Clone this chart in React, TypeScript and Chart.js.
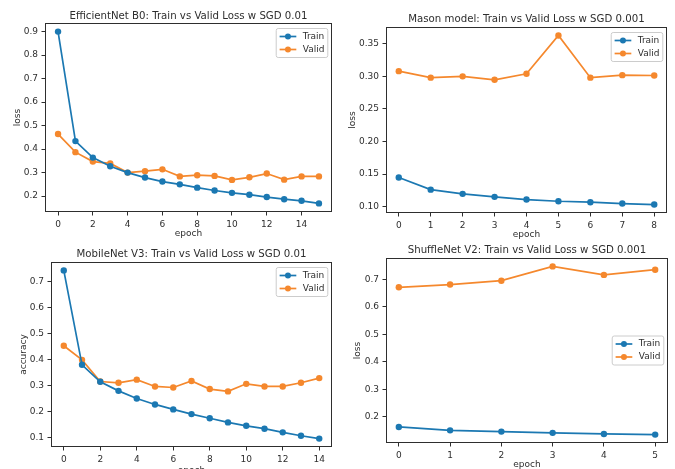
import React, { useEffect, useRef } from 'react';
import { Chart, registerables } from 'chart.js';

Chart.register(...registerables);

// ---------------- data ----------------
const seriesNames = ['Train', 'Valid'];

const effEpochs = [0, 1, 2, 3, 4, 5, 6, 7, 8, 9, 10, 11, 12, 13, 14, 15];
const effTrain = [0.9, 0.434, 0.364, 0.327, 0.3, 0.279, 0.262, 0.25, 0.236, 0.224, 0.214, 0.206, 0.196, 0.187, 0.18, 0.169];
const effValid = [0.464, 0.387, 0.347, 0.339, 0.3, 0.306, 0.314, 0.284, 0.289, 0.286, 0.269, 0.28, 0.296, 0.27, 0.284, 0.284];
const effXTicks = [0, 2, 4, 6, 8, 10, 12, 14];
const effYTicks = [0.2, 0.3, 0.4, 0.5, 0.6, 0.7, 0.8, 0.9];

const masonEpochs = [0, 1, 2, 3, 4, 5, 6, 7, 8];
const masonTrain = [0.1446, 0.126, 0.1195, 0.1149, 0.1108, 0.1082, 0.1067, 0.1046, 0.1031];
const masonValid = [0.308, 0.298, 0.3, 0.2947, 0.304, 0.3628, 0.298, 0.3018, 0.3013];
const masonXTicks = [0, 1, 2, 3, 4, 5, 6, 7, 8];
const masonYTicks = [0.1, 0.15, 0.2, 0.25, 0.3, 0.35];

const mobEpochs = [0, 1, 2, 3, 4, 5, 6, 7, 8, 9, 10, 11, 12, 13, 14];
const mobTrain = [0.742, 0.38, 0.315, 0.28, 0.251, 0.228, 0.209, 0.191, 0.175, 0.159, 0.146, 0.135, 0.121, 0.108, 0.097];
const mobValid = [0.453, 0.399, 0.316, 0.311, 0.323, 0.297, 0.293, 0.318, 0.287, 0.278, 0.307, 0.297, 0.297, 0.311, 0.329];
const mobXTicks = [0, 2, 4, 6, 8, 10, 12, 14];
const mobYTicks = [0.1, 0.2, 0.3, 0.4, 0.5, 0.6, 0.7];

const shufEpochs = [0, 1, 2, 3, 4, 5];
const shufTrain = [0.1625, 0.15, 0.1455, 0.141, 0.137, 0.1346];
const shufValid = [0.671, 0.681, 0.695, 0.747, 0.716, 0.735];
const shufXTicks = [0, 1, 2, 3, 4, 5];
const shufYTicks = [0.2, 0.3, 0.4, 0.5, 0.6, 0.7];

// ---------------- style ----------------
const FONT = '"DejaVu Sans", sans-serif';
const TEXT = '#2e2e2e';
const BLUE = '#1b78b2';
const ORANGE = '#f5882d';
const SMALL = 9;
const BIG = 10.2;

type Panel = {
  title: string;
  yLabel: string;
  epochs: number[];
  train: number[];
  valid: number[];
  xTicks: number[];
  yTicks: number[];
  dec: number;
  box: { left: number; top: number; width: number; height: number };
  area: { l: number; t: number; r: number; b: number };
  titleY: number;
  yTitleX: number;
  xTitleY: number;
  legend: 'upper right' | 'center right';
};

const panels: Panel[] = [
  {
    title: 'EfficientNet B0: Train vs Valid Loss w SGD 0.01',
    yLabel: 'loss',
    epochs: effEpochs, train: effTrain, valid: effValid,
    xTicks: effXTicks, yTicks: effYTicks, dec: 1,
    box: { left: 0, top: 0, width: 340, height: 240 },
    area: { l: 45, t: 23, r: 332, b: 212 },
    titleY: 16, yTitleX: 18, xTitleY: 234, legend: 'upper right',
  },
  {
    title: 'Mason model: Train vs Valid Loss w SGD 0.001',
    yLabel: 'loss',
    epochs: masonEpochs, train: masonTrain, valid: masonValid,
    xTicks: masonXTicks, yTicks: masonYTicks, dec: 2,
    box: { left: 337, top: 0, width: 338, height: 240 },
    area: { l: 49, t: 27, r: 330, b: 213 },
    titleY: 19, yTitleX: 16, xTitleY: 235, legend: 'upper right',
  },
  {
    title: 'MobileNet V3: Train vs Valid Loss w SGD 0.01',
    yLabel: 'accuracy',
    epochs: mobEpochs, train: mobTrain, valid: mobValid,
    xTicks: mobXTicks, yTicks: mobYTicks, dec: 1,
    box: { left: 0, top: 240, width: 340, height: 240 },
    area: { l: 51, t: 22, r: 332, b: 207 },
    titleY: 14, yTitleX: 24, xTitleY: 231, legend: 'upper right',
  },
  {
    title: 'ShuffleNet V2: Train vs Valid Loss w SGD 0.001',
    yLabel: 'loss',
    epochs: shufEpochs, train: shufTrain, valid: shufValid,
    xTicks: shufXTicks, yTicks: shufYTicks, dec: 1,
    box: { left: 337, top: 240, width: 338, height: 240 },
    area: { l: 49, t: 18, r: 331, b: 203 },
    titleY: 10, yTitleX: 21, xTitleY: 225, legend: 'center right',
  },
];

function margins(vals: number[]) {
  const mn = Math.min(...vals);
  const mx = Math.max(...vals);
  const d = (mx - mn) * 0.05;
  return { min: mn - d, max: mx + d };
}

function decoPlugin(p: Panel) {
  return {
    id: 'deco',
    afterDraw(chart: any) {
      const ctx = chart.ctx as CanvasRenderingContext2D;
      const a = chart.chartArea;
      ctx.save();
      // frame (spines)
      ctx.strokeStyle = TEXT;
      ctx.lineWidth = 1;
      ctx.strokeRect(a.left + 0.5, a.top + 0.5, a.right - a.left - 1, a.bottom - a.top - 1);
      // title
      ctx.fillStyle = TEXT;
      ctx.font = `${BIG}px ${FONT}`;
      ctx.textAlign = 'center';
      ctx.textBaseline = 'middle';
      ctx.fillText(p.title, (a.left + a.right) / 2, p.titleY);
      // legend
      ctx.font = `${SMALL}px ${FONT}`;
      const tw = Math.max(...seriesNames.map((s) => ctx.measureText(s).width));
      const pad = 3.4, handle = 16.7, htp = 6.4, rowH = 13, bh = 29;
      const bw = pad + handle + htp + tw + pad;
      const bx = a.right - 4.2 - bw;
      const by = p.legend === 'upper right' ? a.top + 5.5 : (a.top + a.bottom) / 2 - bh / 2;
      ctx.beginPath();
      (ctx as any).roundRect(bx, by, bw, bh, 2);
      ctx.fillStyle = 'rgba(255,255,255,0.8)';
      ctx.fill();
      ctx.strokeStyle = '#cccccc';
      ctx.lineWidth = 1;
      ctx.stroke();
      const cols = [BLUE, ORANGE];
      seriesNames.forEach((name, i) => {
        const cy = by + 8 + i * rowH;
        ctx.strokeStyle = cols[i];
        ctx.lineWidth = 1.7;
        ctx.beginPath();
        ctx.moveTo(bx + pad, cy);
        ctx.lineTo(bx + pad + handle, cy);
        ctx.stroke();
        ctx.fillStyle = cols[i];
        ctx.beginPath();
        ctx.arc(bx + pad + handle / 2, cy, 3, 0, Math.PI * 2);
        ctx.fill();
        ctx.fillStyle = TEXT;
        ctx.textAlign = 'left';
        ctx.textBaseline = 'middle';
        ctx.fillText(name, bx + pad + handle + htp, cy);
      });
      ctx.restore();
    },
  };
}

function PanelChart({ p }: { p: Panel }) {
  const ref = useRef<HTMLCanvasElement>(null);
  useEffect(() => {
    if (!ref.current) return;
    const xr = margins(p.epochs);
    const yr = margins([...p.train, ...p.valid]);
    const lh = SMALL * 1.2;
    const mk = (vals: number[], color: string, label: string) => ({
      label,
      data: p.epochs.map((e, i) => ({ x: e, y: vals[i] })),
      borderColor: color,
      backgroundColor: color,
      borderWidth: 1.7,
      pointRadius: 3.2,
      pointBorderWidth: 0,
      pointBackgroundColor: color,
      tension: 0,
    });
    const chart = new Chart(ref.current, {
      type: 'line',
      data: { datasets: [mk(p.train, BLUE, seriesNames[0]), mk(p.valid, ORANGE, seriesNames[1])] },
      plugins: [decoPlugin(p)],
      options: {
        animation: false,
        responsive: false,
        devicePixelRatio: 1,
        layout: { padding: { left: 0, top: p.area.t, right: p.box.width - p.area.r, bottom: 0 } },
        plugins: { legend: { display: false }, title: { display: false }, tooltip: { enabled: false } },
        scales: {
          x: {
            type: 'linear',
            min: xr.min,
            max: xr.max,
            afterFit: (s: any) => { s.height = p.box.height - p.area.b; },
            afterBuildTicks: (s: any) => { s.ticks = p.xTicks.map((v) => ({ value: v })); },
            grid: { display: true, drawOnChartArea: false, drawTicks: true, tickLength: 3.5, color: TEXT, lineWidth: 1 },
            border: { display: false },
            ticks: { color: TEXT, font: { family: FONT, size: SMALL }, padding: 3.5, maxRotation: 0, autoSkip: false, callback: (v: any) => String(v) },
            title: { display: true, text: 'epoch', color: TEXT, font: { family: FONT, size: SMALL }, padding: { top: 0, bottom: p.box.height - p.xTitleY - lh / 2 } },
          },
          y: {
            type: 'linear',
            min: yr.min,
            max: yr.max,
            afterFit: (s: any) => { s.width = p.area.l; },
            afterBuildTicks: (s: any) => { s.ticks = p.yTicks.map((v) => ({ value: v })); },
            grid: { display: true, drawOnChartArea: false, drawTicks: true, tickLength: 3.5, color: TEXT, lineWidth: 1 },
            border: { display: false },
            ticks: { color: TEXT, font: { family: FONT, size: SMALL }, padding: 3.5, autoSkip: false, callback: (v: any) => Number(v).toFixed(p.dec) },
            title: { display: true, text: p.yLabel, color: TEXT, font: { family: FONT, size: SMALL }, padding: { top: p.yTitleX - lh / 2, bottom: 0 } },
          },
        },
      } as any,
    });
    return () => chart.destroy();
  }, [p]);
  return (
    <canvas
      ref={ref}
      width={p.box.width}
      height={p.box.height}
      style={{ position: 'absolute', left: p.box.left, top: p.box.top, width: p.box.width, height: p.box.height }}
    />
  );
}

export default function App() {
  return (
    <div style={{ position: 'absolute', left: 0, top: 0, width: 675, height: 469, overflow: 'hidden', background: '#ffffff' }}>
      {panels.map((p, i) => (
        <PanelChart key={i} p={p} />
      ))}
    </div>
  );
}
